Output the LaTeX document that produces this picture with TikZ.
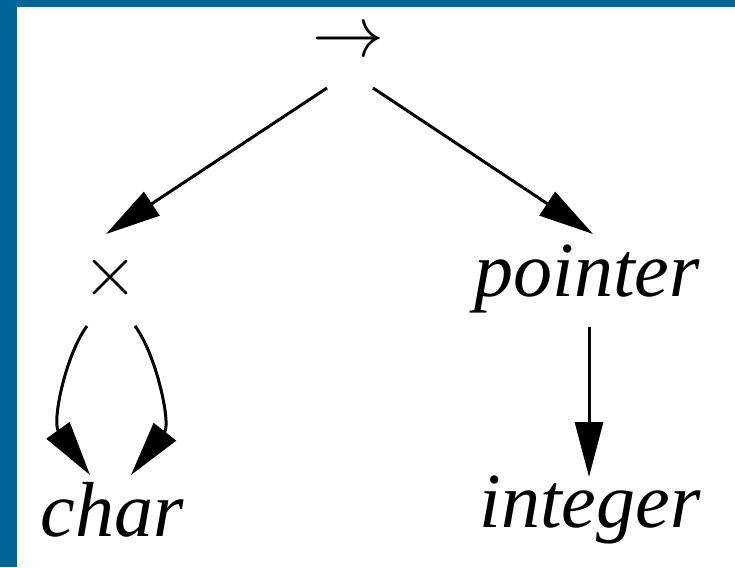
\RequirePackage{fix-cm}
\documentclass[tikz,border=0pt]{standalone}
\usepackage{fontspec}
\setmainfont{Liberation Serif}
\usetikzlibrary{arrows.meta}
\definecolor{frameblue}{RGB}{0,102,153}
\begin{document}
\begin{tikzpicture}[x=1pt,y=-1pt,
        lbl/.style={inner sep=0pt, font=\fontsize{78}{90}\selectfont\itshape},
        sym/.style={inner sep=0pt, font=\fontsize{72}{80}\selectfont},
        edge/.style={line width=3pt, -{Triangle[length=55pt,width=28pt]}}]
        % 1. Frame (blue strips at left and top)
        \useasboundingbox (0,0) rectangle (735,567);
        \fill[frameblue] (0,0) rectangle (17,567);
        \fill[frameblue] (0,0) rectangle (735,7);

        % 2. Nodes of the type tree
        \node[sym] (fn) at (348,43) {$\rightarrow$};
        \node[sym] (prod) at (110,277) {$\times$};
        \node[lbl] (ptr) at (587,279) {pointer};
        \node[lbl] (chr) at (112,510) {char};
        \node[lbl] (intg) at (590,510) {integer};

        % 3. Straight edges
        \draw[edge] ([shift={(-21,45)}]fn.center) -- ([shift={(-4,-43)}]prod.center);
        \draw[edge] ([shift={(25,45)}]fn.center) -- ([shift={(6,-45)}]ptr.center);
        \draw[edge] ([shift={(2,48)}]ptr.center) -- ([shift={(-1,-33)}]intg.center);

        % 4. Two curved edges from the product to char
        \draw[edge] ([shift={(-23,49)}]prod.center) .. controls +(-22,30) and +(-38,-53) .. ([shift={(-22,-35)}]chr.center);
        \draw[edge] ([shift={(25,49)}]prod.center) .. controls +(22,30) and +(40,-51) .. ([shift={(19,-35)}]chr.center);

    \end{tikzpicture}
\end{document}
